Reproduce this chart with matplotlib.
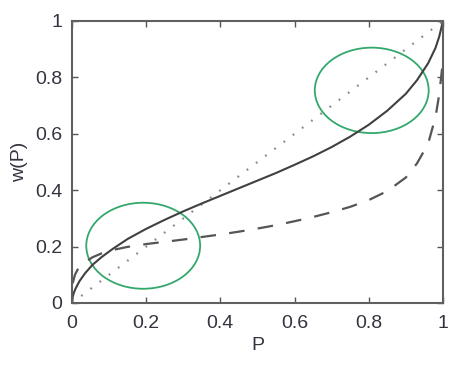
import matplotlib
matplotlib.use("Agg")
import matplotlib.pyplot as plt
from matplotlib.patches import Ellipse

# Solid curve (inverse-S weighting)
solid_p = [0.0, 0.002, 0.005, 0.01, 0.02, 0.035, 0.055, 0.08, 0.11, 0.15, 0.2, 0.25, 0.3,
           0.35, 0.4, 0.45, 0.5, 0.55, 0.6, 0.65, 0.7, 0.75, 0.8, 0.85, 0.9, 0.93, 0.96,
           0.98, 0.99, 1.0]
solid_w = [0.0, 0.022, 0.036, 0.052, 0.077, 0.105, 0.135, 0.163, 0.192, 0.227, 0.263, 0.295,
           0.325, 0.353, 0.38, 0.407, 0.434, 0.461, 0.49, 0.52, 0.553, 0.59, 0.632, 0.682,
           0.742, 0.79, 0.85, 0.905, 0.945, 1.0]

# Dashed curve
dash_p = [0.002, 0.008, 0.017, 0.03, 0.055, 0.08, 0.11, 0.15, 0.2, 0.25, 0.3, 0.35, 0.4,
          0.45, 0.5, 0.55, 0.6, 0.65, 0.7, 0.75, 0.8, 0.85, 0.9, 0.93, 0.96, 0.98, 0.99, 1.0]
dash_w = [0.07, 0.10, 0.123, 0.14, 0.162, 0.176, 0.188, 0.199, 0.209, 0.217, 0.225, 0.234,
          0.243, 0.253, 0.264, 0.276, 0.29, 0.305, 0.322, 0.341, 0.365, 0.397, 0.445, 0.495,
          0.565, 0.66, 0.74, 0.86]

# Dotted diagonal
diag_p = [0.0, 1.0]
diag_w = [0.0, 1.0]

# Highlight ellipses: (center p, center w, width, height)
ellipses = [(0.192, 0.203, 0.307, 0.305), (0.808, 0.754, 0.307, 0.303)]

ticks = [0, 0.2, 0.4, 0.6, 0.8, 1]
tick_labels = ["0", "0.2", "0.4", "0.6", "0.8", "1"]

plt.rcParams['font.family'] = ['Liberation Sans', 'DejaVu Sans']
txt = '#33343f'

fig = plt.figure(figsize=(4.68, 3.67), dpi=100)
ax = fig.add_axes([0.1538, 0.1744, 0.7927, 0.7684])

ax.plot(diag_p, diag_w, linestyle=(0, (0.8, 4.4)), color='#8a8a8a', lw=1.6)
ax.plot(dash_p, dash_w, linestyle=(0, (7, 6)), color='#555555', lw=1.6)
ax.plot(solid_p, solid_w, '-', color='#404040', lw=1.5)

for cx, cy, w, h in ellipses:
    ax.add_patch(Ellipse((cx, cy), w, h, fill=False, edgecolor='#34a86c', lw=1.3))

ax.set_xlim(0, 1)
ax.set_ylim(0, 1)
ax.set_xticks(ticks)
ax.set_xticklabels(tick_labels)
ax.set_yticks(ticks)
ax.set_yticklabels(tick_labels)
ax.tick_params(direction='in', length=4, width=1, colors='#555555', top=True, right=True,
               labelsize=14, labelcolor=txt)
ax.tick_params(axis='x', pad=9)
ax.tick_params(axis='y', pad=7)
for s in ax.spines.values():
    s.set_color('#606060')
    s.set_linewidth(1.5)

ax.set_xlabel('P', fontsize=14, color=txt, labelpad=3)
ax.set_ylabel('w(P)', fontsize=14, color=txt, labelpad=5)

fig.savefig('out.png', dpi=100)
